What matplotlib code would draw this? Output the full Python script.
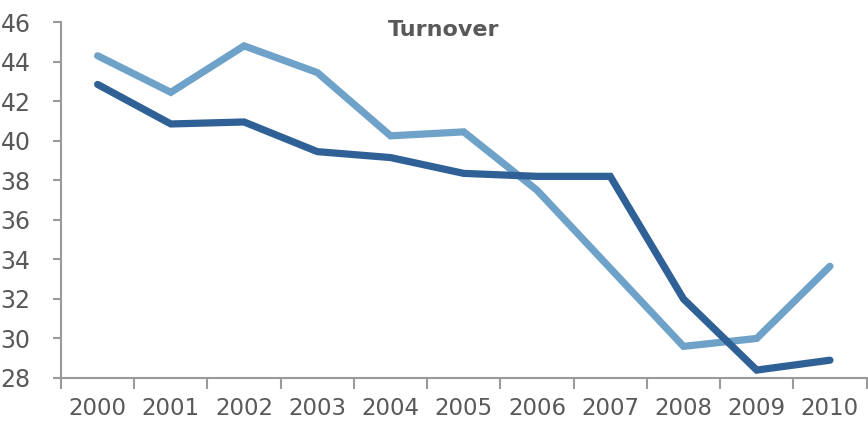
import matplotlib
matplotlib.use("Agg")
import matplotlib.pyplot as plt
from matplotlib.ticker import FixedLocator, MultipleLocator

years = ["2000", "2001", "2002", "2003", "2004", "2005",
         "2006", "2007", "2008", "2009", "2010"]
turnover_light = [44.3, 42.45, 44.8, 43.45, 40.25, 40.45, 37.5, 33.55, 29.6, 30.0, 33.65]
turnover_dark = [42.85, 40.85, 40.95, 39.45, 39.15, 38.35, 38.2, 38.2, 32.0, 28.4, 28.9]

gray = "#595959"
axis_gray = "#9a9a9a"

fig = plt.figure(figsize=(8.68, 4.26), dpi=100)
ax = fig.add_axes([0.0703, 0.1127, 0.928, 0.8353])

x = list(range(len(years)))
ax.plot(x, turnover_light, color="#6fa2c8", lw=5.2, solid_capstyle="round", solid_joinstyle="miter")
ax.plot(x, turnover_dark, color="#2f6096", lw=5.2, solid_capstyle="round", solid_joinstyle="miter")

ax.set_xlim(-0.5, len(years) - 0.5)
ax.set_ylim(28, 46)
ax.yaxis.set_major_locator(MultipleLocator(2))

ax.set_xticks(x)
ax.set_xticklabels(years)
ax.xaxis.set_minor_locator(FixedLocator([i - 0.5 for i in range(len(years) + 1)]))
ax.tick_params(axis="x", which="major", length=0, pad=14, labelsize=16.5, labelcolor=gray)
ax.tick_params(axis="x", which="minor", length=8, width=1.5, color=axis_gray, direction="out")
ax.tick_params(axis="y", which="major", length=6, width=1.5, color=axis_gray,
               pad=16, labelsize=17, labelcolor=gray)

for side in ("top", "right"):
    ax.spines[side].set_visible(False)
for side in ("left", "bottom"):
    ax.spines[side].set_color(axis_gray)
    ax.spines[side].set_linewidth(1.5)

ax.text(0.475, 1.005, "Turnover", transform=ax.transAxes, ha="center", va="top",
        fontsize=16, fontweight="bold", color=gray)

fig.savefig("out.png", dpi=100)
